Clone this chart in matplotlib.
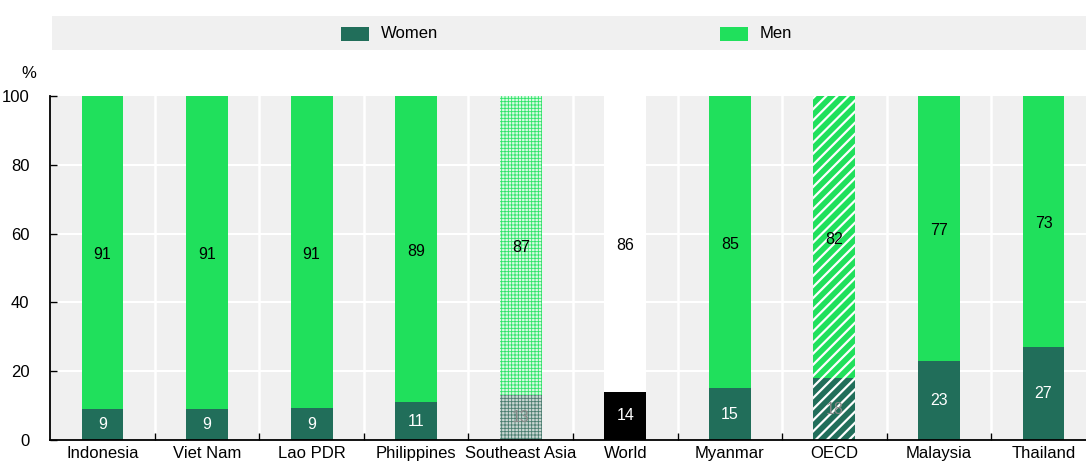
import matplotlib
matplotlib.use("Agg")
import matplotlib.pyplot as plt
from matplotlib.patches import Rectangle

plt.rcParams['font.family'] = ['Liberation Sans', 'DejaVu Sans']

categories = ["Indonesia", "Viet Nam", "Lao PDR", "Philippines", "Southeast Asia",
              "World", "Myanmar", "OECD", "Malaysia", "Thailand"]
women = [9, 9, 9.3, 11, 13, 14, 15, 18, 23, 27]
men = [91, 91, 90.7, 89, 87, 86, 85, 82, 77, 73]
women_labels = ["9", "9", "9", "11", "13", "14", "15", "18", "23", "27"]
men_labels = ["91", "91", "91", "89", "87", "86", "85", "82", "77", "73"]

C_WOMEN = '#216e5a'
C_MEN = '#20e05c'
BG = '#f0f0f0'

fig = plt.figure(figsize=(10.86, 4.62), dpi=100)
W, H = 1086, 462
ax = fig.add_axes([50.2 / W, 22 / H, 1045.6 / W, 344 / H])
ax.set_facecolor(BG)
n = len(categories)
x = list(range(n))
ax.set_xlim(-0.5, n - 0.5)
ax.set_ylim(0, 100)

for yv in [20, 40, 60, 80]:
    ax.axhline(yv, color='white', lw=1.5, zorder=0.5)
for i in range(n - 1):
    ax.axvline(i + 0.5, color='white', lw=1.8, zorder=0.5)

bw = 0.4
FS = 11.5
for i in range(n):
    cat = categories[i]
    if cat == "World":
        ax.bar(i, women[i], bw, color='black', zorder=2, lw=0)
        ax.bar(i, men[i], bw, bottom=women[i], color='white', zorder=2, lw=0)
        wtc = 'white'
    elif cat == "Southeast Asia":
        with plt.rc_context({'hatch.linewidth': 0.6}):
            ax.bar(i, women[i], bw, color='#c9d6d2', edgecolor='#4a7d6f', hatch='+' * 5, lw=0, zorder=2)
            ax.bar(i, men[i], bw, bottom=women[i], color='#d8fae2', edgecolor='#2ee468', hatch='+' * 5, lw=0, zorder=2)
        wtc = '#8a8a8a'
    elif cat == "OECD":
        with plt.rc_context({'hatch.linewidth': 1.6}):
            ax.bar(i, women[i], bw, color=C_WOMEN, edgecolor='white', hatch='///', lw=0, zorder=2)
            ax.bar(i, men[i], bw, bottom=women[i], color=C_MEN, edgecolor='white', hatch='///', lw=0, zorder=2)
        wtc = '#8a8a8a'
    else:
        ax.bar(i, women[i], bw, color=C_WOMEN, zorder=2, lw=0)
        ax.bar(i, men[i], bw, bottom=women[i], color=C_MEN, zorder=2, lw=0)
        wtc = 'white'
    ax.text(i, women[i] / 2, women_labels[i], ha='center', va='center', fontsize=FS, color=wtc, zorder=4)
    ax.text(i, women[i] + men[i] / 2 - 0.6, men_labels[i], ha='center', va='center', fontsize=FS, color='black', zorder=4)

for s in ['top', 'right']:
    ax.spines[s].set_visible(False)
for s in ['left', 'bottom']:
    ax.spines[s].set_color('black')
    ax.spines[s].set_linewidth(1.3)

ax.set_yticks([0, 20, 40, 60, 80, 100])
ax.set_yticklabels(["0", "20", "40", "60", "80", "100"], fontsize=12)
ax.tick_params(axis='y', direction='in', length=5, width=1, pad=15, color='black')
ax.set_xticks(x)
ax.set_xticklabels(categories, fontsize=12)
ax.tick_params(axis='x', which='major', length=0, pad=4)
ax.set_xticks([i + 0.5 for i in range(n - 1)], minor=True)
ax.tick_params(axis='x', which='minor', direction='in', length=5, width=1, color='black')
fig.text(29 / W, (H - 73) / H, "%", ha='center', va='center', fontsize=12)

fig.patches.append(Rectangle((52 / W, (H - 50) / H), (W - 52) / W, 34 / H,
                             transform=fig.transFigure, facecolor=BG, edgecolor='none', zorder=0))
ly = (H - 34) / H
for px, label, col in [(341, "Women", C_WOMEN), (720, "Men", C_MEN)]:
    fig.patches.append(Rectangle((px / W, (H - 41) / H), 28 / W, 14 / H,
                                 transform=fig.transFigure, facecolor=col, edgecolor='none', zorder=1))
    fig.text((px + 40) / W, ly, label, ha='left', va='center', fontsize=12)

fig.savefig("out.png", dpi=100)
